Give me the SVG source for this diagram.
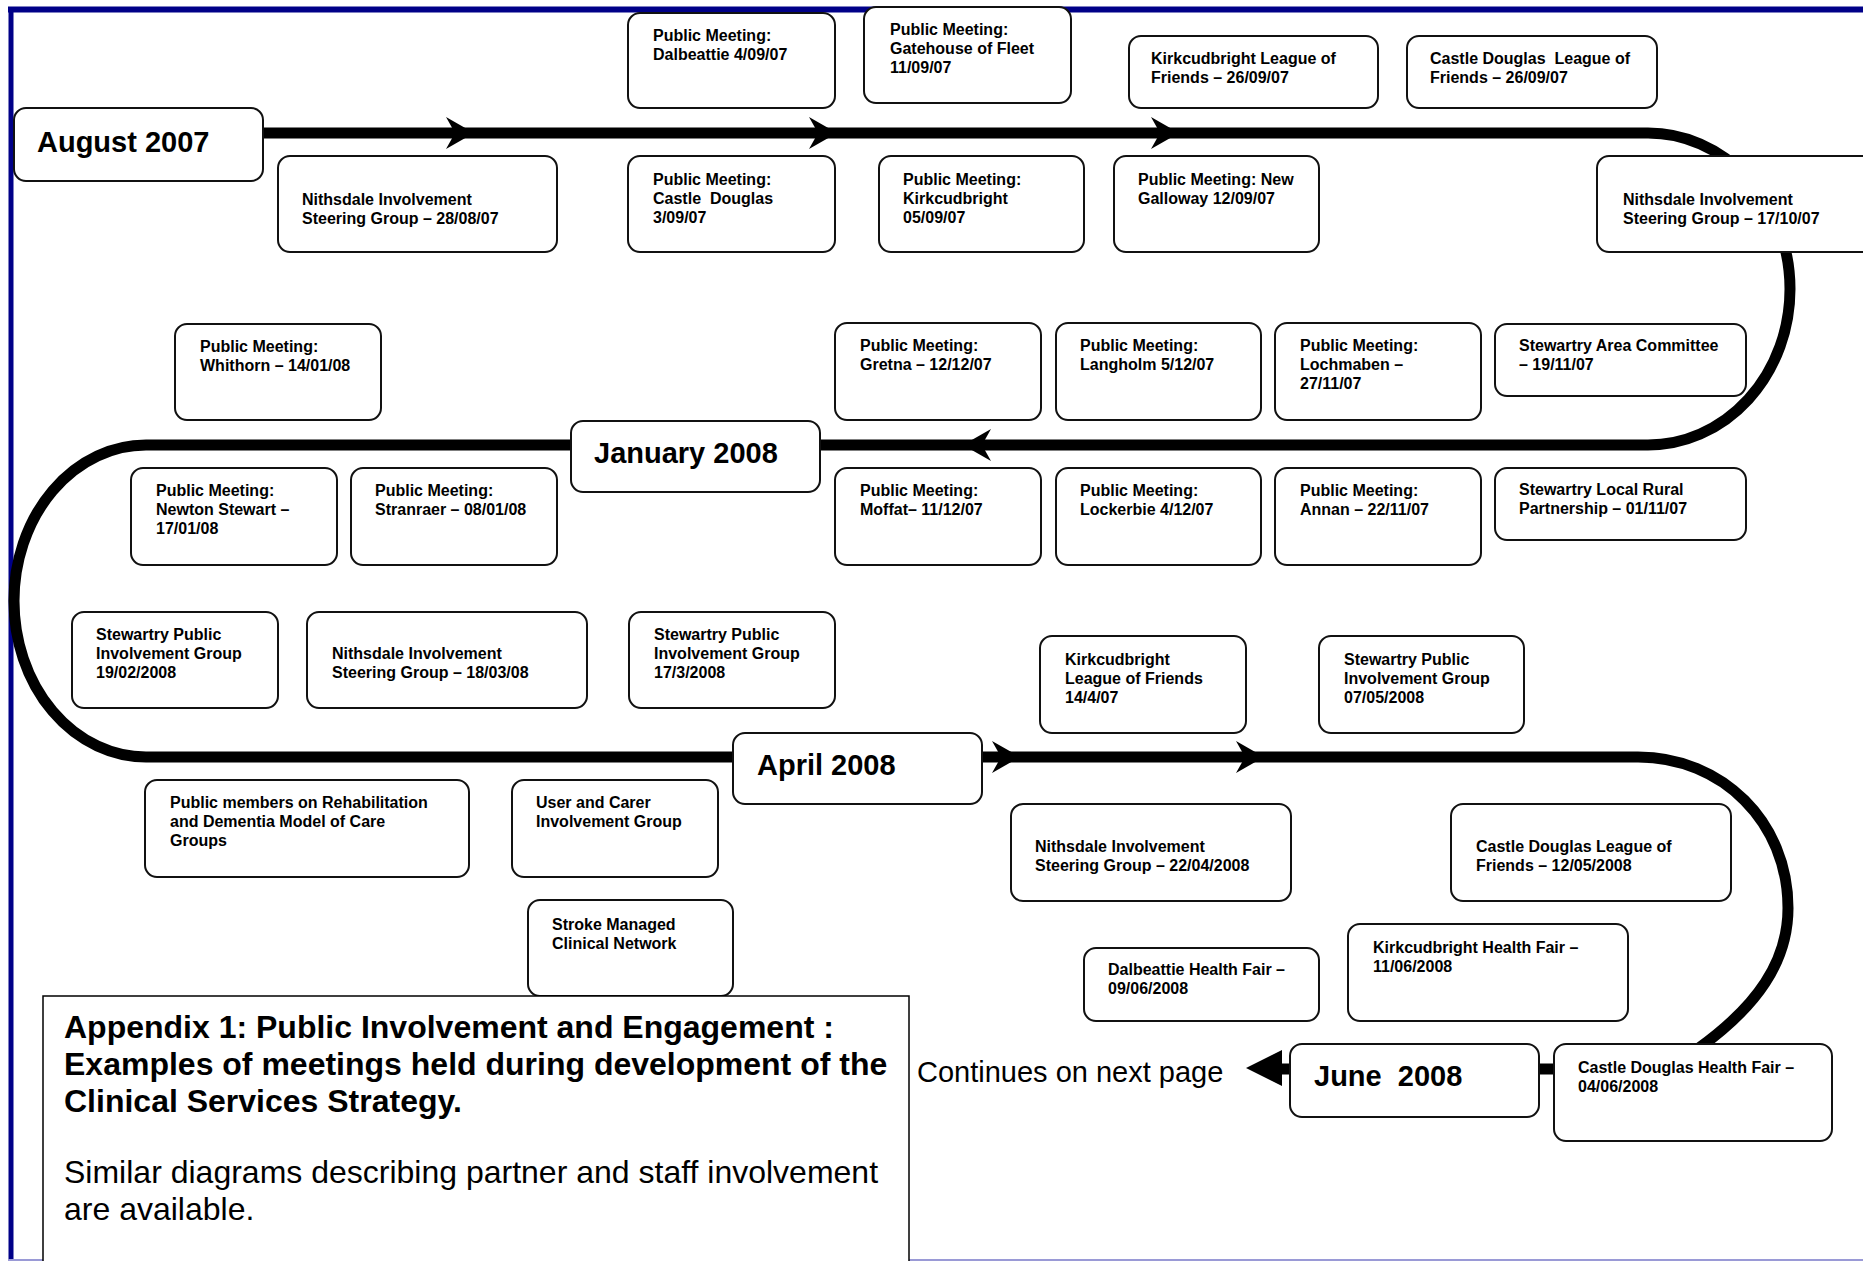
<svg xmlns="http://www.w3.org/2000/svg" xmlns:xlink="http://www.w3.org/1999/xlink" width="1863" height="1261" viewBox="0 0 1863 1261">
<style>
.box{fill:#fff;stroke:#111;stroke-width:2}
.t{font-family:"Liberation Sans",Arial,Helvetica,sans-serif;font-weight:bold;font-size:16px;fill:#000}
.m{font-family:"Liberation Sans",Arial,Helvetica,sans-serif;font-weight:bold;font-size:29px;fill:#000}
.big{font-family:"Liberation Sans",Arial,Helvetica,sans-serif;font-size:32px;fill:#000}
.line{fill:none;stroke:#000;stroke-width:11}
.frame{stroke:#000088;fill:none}
</style>
<defs>
<path id="ah" d="M0,0 L-28,-16 L-19,0 L-28,16 Z" fill="#000"/>
</defs>
<rect width="1863" height="1261" fill="#fff"/>
<g id="frame">
<line class="frame" x1="8" y1="9.5" x2="1863" y2="9.5" stroke-width="6"/>
<line class="frame" x1="11" y1="7" x2="11" y2="1261" stroke-width="5"/>
<line x1="8" y1="1260" x2="1863" y2="1260" stroke="#9a9ad6" stroke-width="2"/>
</g>
<g id="connectors">
<path class="line" d="M263 133 H1648 A142 156 0 0 1 1648 445 H146 A132 156 0 0 0 146 757 H1638 C1722 757 1788 822 1788 908 C1788 962 1757 1006 1699 1048 L1660 1069 H1281"/>
<use xlink:href="#ah" href="#ah" transform="translate(474,133)"/>
<use xlink:href="#ah" href="#ah" transform="translate(837,133)"/>
<use xlink:href="#ah" href="#ah" transform="translate(1179,133)"/>
<use xlink:href="#ah" href="#ah" transform="translate(963,445) rotate(180)"/>
<use xlink:href="#ah" href="#ah" transform="translate(1020,757)"/>
<use xlink:href="#ah" href="#ah" transform="translate(1264,757)"/>
<polygon points="1246,1068 1282,1050 1282,1086" fill="#000"/>
</g>

<g id="aug2007"><rect class="box" x="14" y="108" width="249" height="73" rx="12"/><text class="m" x="37" y="152">August 2007</text></g>
<g id="nith1"><rect class="box" x="278" y="156" width="279" height="96" rx="12"/><text class="t"><tspan x="302" y="205">Nithsdale Involvement</tspan><tspan x="302" y="224">Steering Group – 28/08/07</tspan></text></g>
<g id="dalbeattie"><rect class="box" x="628" y="13" width="207" height="95" rx="12"/><text class="t"><tspan x="653" y="41">Public Meeting:</tspan><tspan x="653" y="60">Dalbeattie 4/09/07</tspan></text></g>
<g id="gatehouse"><rect class="box" x="864" y="7" width="207" height="96" rx="12"/><text class="t"><tspan x="890" y="35">Public Meeting:</tspan><tspan x="890" y="54">Gatehouse of Fleet</tspan><tspan x="890" y="73">11/09/07</tspan></text></g>
<g id="kirkleague1"><rect class="box" x="1129" y="36" width="249" height="72" rx="12"/><text class="t"><tspan x="1151" y="64">Kirkcudbright League of</tspan><tspan x="1151" y="83">Friends – 26/09/07</tspan></text></g>
<g id="cdleague1"><rect class="box" x="1407" y="36" width="250" height="72" rx="12"/><text class="t" xml:space="preserve"><tspan x="1430" y="64">Castle Douglas  League of</tspan><tspan x="1430" y="83">Friends – 26/09/07</tspan></text></g>
<g id="castledouglas"><rect class="box" x="628" y="156" width="207" height="96" rx="12"/><text class="t" xml:space="preserve"><tspan x="653" y="185">Public Meeting:</tspan><tspan x="653" y="204">Castle  Douglas</tspan><tspan x="653" y="223">3/09/07</tspan></text></g>
<g id="kirkcudbright"><rect class="box" x="879" y="156" width="205" height="96" rx="12"/><text class="t"><tspan x="903" y="185">Public Meeting:</tspan><tspan x="903" y="204">Kirkcudbright</tspan><tspan x="903" y="223">05/09/07</tspan></text></g>
<g id="newgalloway"><rect class="box" x="1114" y="156" width="205" height="96" rx="12"/><text class="t"><tspan x="1138" y="185">Public Meeting: New</tspan><tspan x="1138" y="204">Galloway 12/09/07</tspan></text></g>
<g id="nith2"><rect class="box" x="1597" y="156" width="290" height="96" rx="12"/><text class="t"><tspan x="1623" y="205">Nithsdale Involvement</tspan><tspan x="1623" y="224">Steering Group – 17/10/07</tspan></text></g>
<g id="stewartryarea"><rect class="box" x="1495" y="324" width="251" height="72" rx="12"/><text class="t"><tspan x="1519" y="351">Stewartry Area Committee</tspan><tspan x="1519" y="370">– 19/11/07</tspan></text></g>
<g id="lochmaben"><rect class="box" x="1275" y="323" width="206" height="97" rx="12"/><text class="t"><tspan x="1300" y="351">Public Meeting:</tspan><tspan x="1300" y="370">Lochmaben –</tspan><tspan x="1300" y="389">27/11/07</tspan></text></g>
<g id="langholm"><rect class="box" x="1056" y="323" width="205" height="97" rx="12"/><text class="t"><tspan x="1080" y="351">Public Meeting:</tspan><tspan x="1080" y="370">Langholm 5/12/07</tspan></text></g>
<g id="gretna"><rect class="box" x="835" y="323" width="206" height="97" rx="12"/><text class="t"><tspan x="860" y="351">Public Meeting:</tspan><tspan x="860" y="370">Gretna – 12/12/07</tspan></text></g>
<g id="whithorn"><rect class="box" x="175" y="324" width="206" height="96" rx="12"/><text class="t"><tspan x="200" y="352">Public Meeting:</tspan><tspan x="200" y="371">Whithorn – 14/01/08</tspan></text></g>
<g id="jan2008"><rect class="box" x="571" y="421" width="249" height="71" rx="12"/><text class="m" x="594" y="463">January 2008</text></g>
<g id="newtonstewart"><rect class="box" x="131" y="468" width="206" height="97" rx="12"/><text class="t"><tspan x="156" y="496">Public Meeting:</tspan><tspan x="156" y="515">Newton Stewart –</tspan><tspan x="156" y="534">17/01/08</tspan></text></g>
<g id="stranraer"><rect class="box" x="351" y="468" width="206" height="97" rx="12"/><text class="t"><tspan x="375" y="496">Public Meeting:</tspan><tspan x="375" y="515">Stranraer – 08/01/08</tspan></text></g>
<g id="moffat"><rect class="box" x="835" y="468" width="206" height="97" rx="12"/><text class="t"><tspan x="860" y="496">Public Meeting:</tspan><tspan x="860" y="515">Moffat– 11/12/07</tspan></text></g>
<g id="lockerbie"><rect class="box" x="1056" y="468" width="205" height="97" rx="12"/><text class="t"><tspan x="1080" y="496">Public Meeting:</tspan><tspan x="1080" y="515">Lockerbie 4/12/07</tspan></text></g>
<g id="annan"><rect class="box" x="1275" y="468" width="206" height="97" rx="12"/><text class="t"><tspan x="1300" y="496">Public Meeting:</tspan><tspan x="1300" y="515">Annan – 22/11/07</tspan></text></g>
<g id="stewartryrural"><rect class="box" x="1495" y="468" width="251" height="72" rx="12"/><text class="t"><tspan x="1519" y="495">Stewartry Local Rural</tspan><tspan x="1519" y="514">Partnership – 01/11/07</tspan></text></g>
<g id="stewartrypig1"><rect class="box" x="72" y="612" width="206" height="96" rx="12"/><text class="t"><tspan x="96" y="640">Stewartry Public</tspan><tspan x="96" y="659">Involvement Group</tspan><tspan x="96" y="678">19/02/2008</tspan></text></g>
<g id="nith3"><rect class="box" x="307" y="612" width="280" height="96" rx="12"/><text class="t"><tspan x="332" y="659">Nithsdale Involvement</tspan><tspan x="332" y="678">Steering Group – 18/03/08</tspan></text></g>
<g id="stewartrypig2"><rect class="box" x="629" y="612" width="206" height="96" rx="12"/><text class="t"><tspan x="654" y="640">Stewartry Public</tspan><tspan x="654" y="659">Involvement Group</tspan><tspan x="654" y="678">17/3/2008</tspan></text></g>
<g id="kirkleague2"><rect class="box" x="1040" y="636" width="206" height="97" rx="12"/><text class="t"><tspan x="1065" y="665">Kirkcudbright</tspan><tspan x="1065" y="684">League of Friends</tspan><tspan x="1065" y="703">14/4/07</tspan></text></g>
<g id="stewartrypig3"><rect class="box" x="1319" y="636" width="205" height="97" rx="12"/><text class="t"><tspan x="1344" y="665">Stewartry Public</tspan><tspan x="1344" y="684">Involvement Group</tspan><tspan x="1344" y="703">07/05/2008</tspan></text></g>
<g id="apr2008"><rect class="box" x="733" y="733" width="249" height="71" rx="12"/><text class="m" x="757" y="775">April 2008</text></g>
<g id="publicmembers"><rect class="box" x="145" y="780" width="324" height="97" rx="12"/><text class="t"><tspan x="170" y="808">Public members on Rehabilitation</tspan><tspan x="170" y="827">and Dementia Model of Care</tspan><tspan x="170" y="846">Groups</tspan></text></g>
<g id="usercarer"><rect class="box" x="512" y="780" width="206" height="97" rx="12"/><text class="t"><tspan x="536" y="808">User and Carer</tspan><tspan x="536" y="827">Involvement Group</tspan></text></g>
<g id="stroke"><rect class="box" x="528" y="900" width="205" height="96" rx="12"/><text class="t"><tspan x="552" y="930">Stroke Managed</tspan><tspan x="552" y="949">Clinical Network</tspan></text></g>
<g id="nith4"><rect class="box" x="1011" y="804" width="280" height="97" rx="12"/><text class="t"><tspan x="1035" y="852">Nithsdale Involvement</tspan><tspan x="1035" y="871">Steering Group – 22/04/2008</tspan></text></g>
<g id="cdleague2"><rect class="box" x="1451" y="804" width="280" height="97" rx="12"/><text class="t"><tspan x="1476" y="852">Castle Douglas League of</tspan><tspan x="1476" y="871">Friends – 12/05/2008</tspan></text></g>
<g id="dalbfair"><rect class="box" x="1084" y="948" width="235" height="73" rx="12"/><text class="t"><tspan x="1108" y="975">Dalbeattie Health Fair –</tspan><tspan x="1108" y="994">09/06/2008</tspan></text></g>
<g id="kirkfair"><rect class="box" x="1348" y="924" width="280" height="97" rx="12"/><text class="t"><tspan x="1373" y="953">Kirkcudbright Health Fair –</tspan><tspan x="1373" y="972">11/06/2008</tspan></text></g>
<g id="jun2008"><rect class="box" x="1290" y="1044" width="249" height="73" rx="12"/><text class="m" x="1314" y="1086" xml:space="preserve">June  2008</text></g>
<g id="cdfair"><rect class="box" x="1554" y="1044" width="278" height="97" rx="12"/><text class="t"><tspan x="1578" y="1073">Castle Douglas Health Fair –</tspan><tspan x="1578" y="1092">04/06/2008</tspan></text></g>
<g id="continues"><text class="big" x="917" y="1082" style="font-size:29px">Continues on next page</text></g>
<g id="appendix"><rect x="43" y="996" width="866" height="275" fill="#fff" stroke="#000" stroke-width="1.5"/>
<text class="big" font-weight="bold"><tspan x="64" y="1038">Appendix 1: Public Involvement and Engagement :</tspan><tspan x="64" y="1075">Examples of meetings held during development of the</tspan><tspan x="64" y="1112">Clinical Services Strategy.</tspan></text>
<text class="big"><tspan x="64" y="1183">Similar diagrams describing partner and staff involvement</tspan><tspan x="64" y="1220">are available.</tspan></text></g>
</svg>
